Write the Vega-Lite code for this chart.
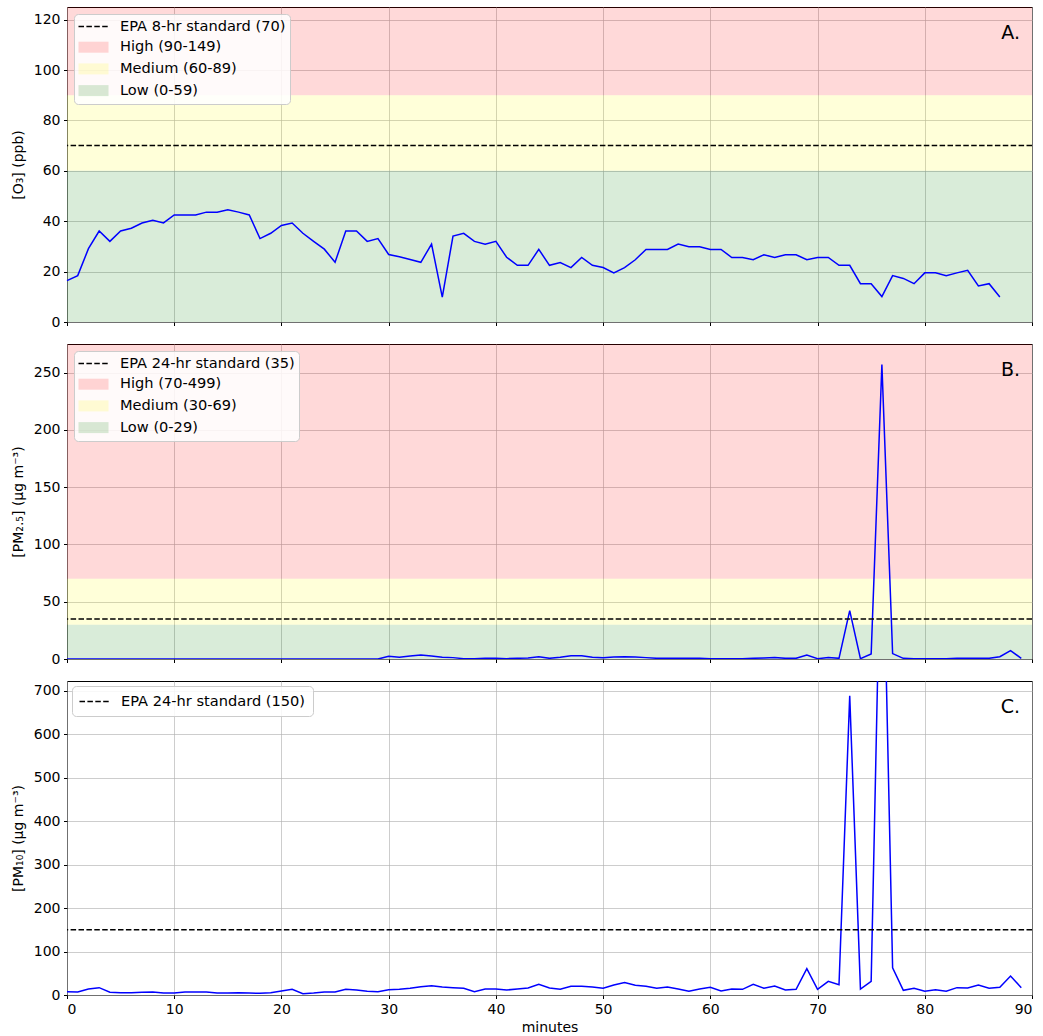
{
  "$schema": "https://vega.github.io/schema/vega-lite/v6.json",
  "background": "white",
  "padding": {"left": 10, "top": 6, "right": 11, "bottom": 5},
  "bounds": "flush",
  "spacing": 22,
  "resolve": {"scale": {"color": "independent", "y": "independent"}, "legend": {"color": "independent"}},
  "config": {
    "font": "DejaVu Sans",
    "view": {"stroke": "black", "strokeWidth": 1},
    "axis": {
      "labelFont": "DejaVu Sans", "labelFontSize": 14, "labelColor": "black",
      "titleFont": "DejaVu Sans", "titleFontSize": 14, "titleFontWeight": "normal", "titleColor": "black",
      "tickColor": "black", "tickSize": 3.5, "tickWidth": 1, "labelPadding": 3.5,
      "domain": false, "gridColor": "#b0b0b0", "gridWidth": 0.8, "gridOpacity": 0.8, "titlePadding": 8
    },
    "legend": {
      "labelFont": "DejaVu Sans", "labelFontSize": 14.6, "labelColor": "black", "labelLimit": 400,
      "orient": "top-left", "offset": 7, "padding": 4, "cornerRadius": 4,
      "fillColor": "rgba(255,255,255,0.85)", "strokeColor": "#cccccc",
      "symbolSize": 225, "rowPadding": 4.7, "labelOffset": 18, "symbolOffset": 7
    }
  },
  "datasets": {
    "o3": [
      {"t":0,"v":16.4},{"t":1,"v":18.4},{"t":2,"v":29.1},{"t":3,"v":36.1},{"t":4,"v":32},{"t":5,"v":36.1},{"t":6,"v":37.2},{"t":7,"v":39.3},{"t":8,"v":40.4},{"t":9,"v":39.3},
      {"t":10,"v":42.5},{"t":11,"v":42.5},{"t":12,"v":42.5},{"t":13,"v":43.6},{"t":14,"v":43.6},{"t":15,"v":44.5},{"t":16,"v":43.6},{"t":17,"v":42.5},{"t":18,"v":33.1},{"t":19,"v":35.2},
      {"t":20,"v":38.3},{"t":21,"v":39.3},{"t":22,"v":35.2},{"t":23,"v":32},{"t":24,"v":28.9},{"t":25,"v":23.7},{"t":26,"v":36.1},{"t":27,"v":36.1},{"t":28,"v":32},{"t":29,"v":33.1},
      {"t":30,"v":26.8},{"t":31,"v":25.9},{"t":32,"v":24.8},{"t":33,"v":23.7},{"t":34,"v":30.9},{"t":35,"v":9.9},{"t":36,"v":34.1},{"t":37,"v":35.2},{"t":38,"v":32},{"t":39,"v":30.9},
      {"t":40,"v":32},{"t":41,"v":25.7},{"t":42,"v":22.5},{"t":43,"v":22.5},{"t":44,"v":28.8},{"t":45,"v":22.5},{"t":46,"v":23.6},{"t":47,"v":21.6},{"t":48,"v":25.6},{"t":49,"v":22.5},
      {"t":50,"v":21.6},{"t":51,"v":19.5},{"t":52,"v":21.6},{"t":53,"v":24.7},{"t":54,"v":28.8},{"t":55,"v":28.8},{"t":56,"v":28.8},{"t":57,"v":30.9},{"t":58,"v":29.9},{"t":59,"v":29.9},
      {"t":60,"v":28.8},{"t":61,"v":28.8},{"t":62,"v":25.6},{"t":63,"v":25.6},{"t":64,"v":24.7},{"t":65,"v":26.7},{"t":66,"v":25.6},{"t":67,"v":26.7},{"t":68,"v":26.7},{"t":69,"v":24.7},
      {"t":70,"v":25.6},{"t":71,"v":25.6},{"t":72,"v":22.5},{"t":73,"v":22.5},{"t":74,"v":15.2},{"t":75,"v":15.2},{"t":76,"v":10.1},{"t":77,"v":18.4},{"t":78,"v":17.3},{"t":79,"v":15.2},
      {"t":80,"v":19.5},{"t":81,"v":19.5},{"t":82,"v":18.4},{"t":83,"v":19.5},{"t":84,"v":20.5},{"t":85,"v":14.3},{"t":86,"v":15.2},{"t":87,"v":9.9}
    ],
    "pm25": [
      {"t":0,"v":0},{"t":1,"v":0},{"t":2,"v":0},{"t":3,"v":0},{"t":4,"v":0},{"t":5,"v":0},{"t":6,"v":0},{"t":7,"v":0},{"t":8,"v":0},{"t":9,"v":0},
      {"t":10,"v":0},{"t":11,"v":0},{"t":12,"v":0},{"t":13,"v":0},{"t":14,"v":0},{"t":15,"v":0},{"t":16,"v":0},{"t":17,"v":0},{"t":18,"v":0},{"t":19,"v":0},
      {"t":20,"v":0},{"t":21,"v":0},{"t":22,"v":0},{"t":23,"v":0},{"t":24,"v":0},{"t":25,"v":0},{"t":26,"v":0},{"t":27,"v":0},{"t":28,"v":0},{"t":29,"v":0},
      {"t":30,"v":2.3},{"t":31,"v":1.5},{"t":32,"v":2.6},{"t":33,"v":3.5},{"t":34,"v":2.6},{"t":35,"v":1.5},{"t":36,"v":1.2},{"t":37,"v":0.3},{"t":38,"v":0.3},{"t":39,"v":0.6},
      {"t":40,"v":0.6},{"t":41,"v":0.3},{"t":42,"v":0.6},{"t":43,"v":0.9},{"t":44,"v":2},{"t":45,"v":0.6},{"t":46,"v":1.5},{"t":47,"v":2.9},{"t":48,"v":2.9},{"t":49,"v":1.5},
      {"t":50,"v":1.2},{"t":51,"v":1.7},{"t":52,"v":2},{"t":53,"v":1.7},{"t":54,"v":1.2},{"t":55,"v":0.6},{"t":56,"v":0.6},{"t":57,"v":0.6},{"t":58,"v":0.6},{"t":59,"v":0.6},
      {"t":60,"v":0.3},{"t":61,"v":0.3},{"t":62,"v":0.3},{"t":63,"v":0.3},{"t":64,"v":0.6},{"t":65,"v":0.9},{"t":66,"v":1.2},{"t":67,"v":0.6},{"t":68,"v":0.6},{"t":69,"v":3.5},
      {"t":70,"v":0.3},{"t":71,"v":1.2},{"t":72,"v":0.6},{"t":73,"v":42.3},{"t":74,"v":0.3},{"t":75,"v":4.4},{"t":76,"v":257},{"t":77,"v":4.7},{"t":78,"v":0.6},{"t":79,"v":0.3},
      {"t":80,"v":0.3},{"t":81,"v":0.3},{"t":82,"v":0.3},{"t":83,"v":0.6},{"t":84,"v":0.6},{"t":85,"v":0.6},{"t":86,"v":0.6},{"t":87,"v":2},{"t":88,"v":7.3},{"t":89,"v":0.6}
    ],
    "pm10": [
      {"t":0,"v":7.7},{"t":1,"v":6.9},{"t":2,"v":13.8},{"t":3,"v":16.9},{"t":4,"v":6.2},{"t":5,"v":5.4},{"t":6,"v":5.4},{"t":7,"v":6.2},{"t":8,"v":6.9},{"t":9,"v":4.6},
      {"t":10,"v":4.6},{"t":11,"v":6.9},{"t":12,"v":6.9},{"t":13,"v":6.9},{"t":14,"v":4.6},{"t":15,"v":4.6},{"t":16,"v":5.4},{"t":17,"v":4.6},{"t":18,"v":3.8},{"t":19,"v":5.4},
      {"t":20,"v":9.2},{"t":21,"v":13.1},{"t":22,"v":3.1},{"t":23,"v":4.6},{"t":24,"v":6.9},{"t":25,"v":6.9},{"t":26,"v":13.1},{"t":27,"v":11.5},{"t":28,"v":8.5},{"t":29,"v":7.7},
      {"t":30,"v":12.3},{"t":31,"v":13.1},{"t":32,"v":15.4},{"t":33,"v":19.2},{"t":34,"v":21.5},{"t":35,"v":18.5},{"t":36,"v":16.9},{"t":37,"v":15.4},{"t":38,"v":7.7},{"t":39,"v":13.8},
      {"t":40,"v":13.8},{"t":41,"v":11.5},{"t":42,"v":13.8},{"t":43,"v":16.2},{"t":44,"v":24.6},{"t":45,"v":16.2},{"t":46,"v":13.1},{"t":47,"v":20},{"t":48,"v":20},{"t":49,"v":18.5},
      {"t":50,"v":15.4},{"t":51,"v":23},{"t":52,"v":28.5},{"t":53,"v":22.3},{"t":54,"v":20},{"t":55,"v":15.4},{"t":56,"v":18.5},{"t":57,"v":13.8},{"t":58,"v":8.5},{"t":59,"v":13.8},
      {"t":60,"v":17.7},{"t":61,"v":9.2},{"t":62,"v":13.8},{"t":63,"v":13.1},{"t":64,"v":24.6},{"t":65,"v":15.4},{"t":66,"v":20.8},{"t":67,"v":11.5},{"t":68,"v":13.1},{"t":69,"v":60.8},
      {"t":70,"v":13.1},{"t":71,"v":31.5},{"t":72,"v":23.8},{"t":73,"v":689},{"t":74,"v":13.8},{"t":75,"v":31.5},{"t":76,"v":1200},{"t":77,"v":62.3},{"t":78,"v":10.8},{"t":79,"v":15.4},
      {"t":80,"v":8.5},{"t":81,"v":12.3},{"t":82,"v":8.5},{"t":83,"v":16.9},{"t":84,"v":16.2},{"t":85,"v":23},{"t":86,"v":15.4},{"t":87,"v":17.7},{"t":88,"v":43.8},{"t":89,"v":16.9}
    ]
  },
  "vconcat": [
    {
      "width": 965, "height": 315,
      "layer": [
        {
          "data": {"values": [
            {"band": "High (90-149)", "lo": 90, "hi": 150, "x0": 0, "x1": 90},
            {"band": "Medium (60-89)", "lo": 60, "hi": 90, "x0": 0, "x1": 90},
            {"band": "Low (0-59)", "lo": 0, "hi": 60, "x0": 0, "x1": 90}
          ]},
          "mark": {"type": "rect", "clip": true, "opacity": 0.15, "strokeWidth": 0},
          "encoding": {
            "x": {"field": "x0", "type": "quantitative", "scale": {"domain": [0, 90], "nice": false},
                  "axis": {"values": [0, 10, 20, 30, 40, 50, 60, 70, 80, 90], "labels": false, "title": null, "grid": true}},
            "x2": {"field": "x1"},
            "y": {"field": "lo", "type": "quantitative", "scale": {"domain": [0, 125], "nice": false},
                  "axis": {"title": "[O₃] (ppb)", "values": [0, 20, 40, 60, 80, 100, 120], "grid": true}},
            "y2": {"field": "hi"},
            "color": {"field": "band", "type": "nominal",
              "scale": {"domain": ["EPA 8-hr standard (70)", "High (90-149)", "Medium (60-89)", "Low (0-59)"], "range": ["black", "red", "yellow", "green"]},
              "legend": {"title": null,
                "symbolType": {"expr": "datum.index === 0 ? 'M-2,0H2' : 'M-2,-0.733H2V0.733H-2Z'"},
                "symbolDash": {"expr": "datum.index === 0 ? [5.5, 2.4] : [1, 0]"},
                "symbolStrokeColor": {"expr": "datum.index === 0 ? 'black' : 'transparent'"},
                "symbolOpacity": {"expr": "datum.index === 0 ? 1 : 0.15"},
                "symbolStrokeWidth": 1.5}
            }
          }
        },
        {
          "data": {"name": "o3"},
          "mark": {"type": "line", "color": "#0000ff", "strokeWidth": 1.5},
          "encoding": {
            "x": {"field": "t", "type": "quantitative", "axis": {"title": null}},
            "y": {"field": "v", "type": "quantitative", "axis": {"title": "[O₃] (ppb)"}}
          }
        },
        {
          "data": {"values": [{"std": 70}]},
          "mark": {"type": "rule", "color": "black", "strokeWidth": 1.5, "strokeDash": [5.5, 2.4]},
          "encoding": {"y": {"field": "std", "type": "quantitative", "axis": {"title": "[O₃] (ppb)"}}}
        },
        {
          "data": {"values": [{"label": "A.", "t": 90, "v": 125}]},
          "mark": {"type": "text", "align": "right", "baseline": "middle", "dx": -12, "dy": 26, "fontSize": 19, "font": "DejaVu Sans", "color": "black"},
          "encoding": {
            "x": {"field": "t", "type": "quantitative", "axis": {"title": null}},
            "y": {"field": "v", "type": "quantitative", "axis": {"title": "[O₃] (ppb)"}},
            "text": {"field": "label"}
          }
        }
      ]
    },
    {
      "width": 965, "height": 315,
      "layer": [
        {
          "data": {"values": [
            {"band": "High (70-499)", "lo": 70, "hi": 500, "x0": 0, "x1": 90},
            {"band": "Medium (30-69)", "lo": 30, "hi": 70, "x0": 0, "x1": 90},
            {"band": "Low (0-29)", "lo": 0, "hi": 30, "x0": 0, "x1": 90}
          ]},
          "mark": {"type": "rect", "clip": true, "opacity": 0.15, "strokeWidth": 0},
          "encoding": {
            "x": {"field": "x0", "type": "quantitative", "scale": {"domain": [0, 90], "nice": false},
                  "axis": {"values": [0, 10, 20, 30, 40, 50, 60, 70, 80, 90], "labels": false, "title": null, "grid": true}},
            "x2": {"field": "x1"},
            "y": {"field": "lo", "type": "quantitative", "scale": {"domain": [0, 275], "nice": false},
                  "axis": {"title": "[PM₂.₅] (μg m⁻³)", "values": [0, 50, 100, 150, 200, 250], "grid": true}},
            "y2": {"field": "hi"},
            "color": {"field": "band", "type": "nominal",
              "scale": {"domain": ["EPA 24-hr standard (35)", "High (70-499)", "Medium (30-69)", "Low (0-29)"], "range": ["black", "red", "yellow", "green"]},
              "legend": {"title": null,
                "symbolType": {"expr": "datum.index === 0 ? 'M-2,0H2' : 'M-2,-0.733H2V0.733H-2Z'"},
                "symbolDash": {"expr": "datum.index === 0 ? [5.5, 2.4] : [1, 0]"},
                "symbolStrokeColor": {"expr": "datum.index === 0 ? 'black' : 'transparent'"},
                "symbolOpacity": {"expr": "datum.index === 0 ? 1 : 0.15"},
                "symbolStrokeWidth": 1.5}
            }
          }
        },
        {
          "data": {"name": "pm25"},
          "mark": {"type": "line", "color": "#0000ff", "strokeWidth": 1.5, "clip": true},
          "encoding": {
            "x": {"field": "t", "type": "quantitative", "axis": {"title": null}},
            "y": {"field": "v", "type": "quantitative", "axis": {"title": "[PM₂.₅] (μg m⁻³)"}}
          }
        },
        {
          "data": {"values": [{"std": 35}]},
          "mark": {"type": "rule", "color": "black", "strokeWidth": 1.5, "strokeDash": [5.5, 2.4]},
          "encoding": {"y": {"field": "std", "type": "quantitative", "axis": {"title": "[PM₂.₅] (μg m⁻³)"}}}
        },
        {
          "data": {"values": [{"label": "B.", "t": 90, "v": 275}]},
          "mark": {"type": "text", "align": "right", "baseline": "middle", "dx": -12, "dy": 26, "fontSize": 19, "font": "DejaVu Sans", "color": "black"},
          "encoding": {
            "x": {"field": "t", "type": "quantitative", "axis": {"title": null}},
            "y": {"field": "v", "type": "quantitative", "axis": {"title": "[PM₂.₅] (μg m⁻³)"}},
            "text": {"field": "label"}
          }
        }
      ]
    },
    {
      "width": 965, "height": 314,
      "layer": [
        {
          "data": {"name": "pm10"},
          "mark": {"type": "line", "color": "#0000ff", "strokeWidth": 1.5, "clip": true},
          "encoding": {
            "x": {"field": "t", "type": "quantitative", "scale": {"domain": [0, 90], "nice": false},
                  "axis": {"values": [0, 10, 20, 30, 40, 50, 60, 70, 80, 90], "title": "minutes", "grid": true, "titlePadding": 4}},
            "y": {"field": "v", "type": "quantitative", "scale": {"domain": [0, 723], "nice": false},
                  "axis": {"title": "[PM₁₀] (μg m⁻³)", "values": [0, 100, 200, 300, 400, 500, 600, 700], "grid": true}}
          }
        },
        {
          "data": {"values": [{"std": 150, "lab": "EPA 24-hr standard (150)"}]},
          "mark": {"type": "rule", "strokeWidth": 1.5, "strokeDash": [5.5, 2.4]},
          "encoding": {
            "y": {"field": "std", "type": "quantitative", "axis": {"title": "[PM₁₀] (μg m⁻³)"}},
            "color": {"field": "lab", "type": "nominal", "scale": {"domain": ["EPA 24-hr standard (150)"], "range": ["black"]},
              "legend": {"title": null, "padding": 7, "offset": 5, "symbolType": "M-2,0H2", "symbolDash": [5.5, 2.4], "symbolStrokeWidth": 1.5}
            }
          }
        },
        {
          "data": {"values": [{"label": "C.", "t": 90, "v": 723}]},
          "mark": {"type": "text", "align": "right", "baseline": "middle", "dx": -12, "dy": 26, "fontSize": 19, "font": "DejaVu Sans", "color": "black"},
          "encoding": {
            "x": {"field": "t", "type": "quantitative", "axis": {"title": "minutes"}},
            "y": {"field": "v", "type": "quantitative", "axis": {"title": "[PM₁₀] (μg m⁻³)"}},
            "text": {"field": "label"}
          }
        }
      ]
    }
  ]
}
